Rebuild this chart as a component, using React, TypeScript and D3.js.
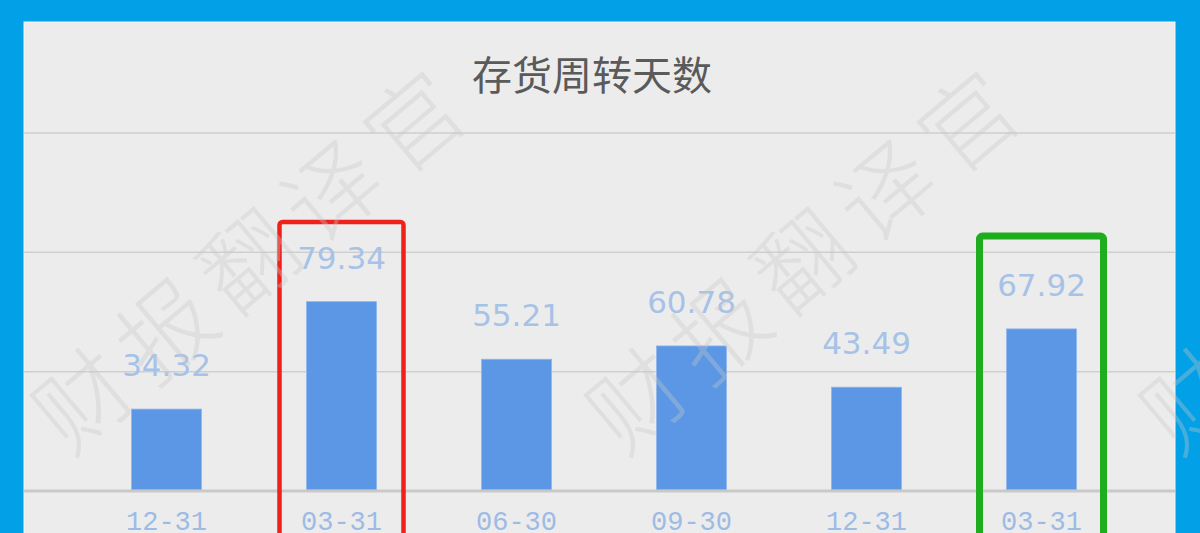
import React from "react";
import * as d3 from "d3";

const TITLE = "存货周转天数";
const WATERMARK = "财报翻译官";
const categories = ["12-31", "03-31", "06-30", "09-30", "12-31 ", "03-31 "];
const values = [34.32, 79.34, 55.21, 60.78, 43.49, 67.92];
const gridTicks = [0, 50, 100, 150];
// highlighted bars: index of the bar and box colour
const highlights = [
  { index: 1, color: "#F0211B", width: 4.5, top: 222 },
  { index: 5, color: "#1FAC1F", width: 7, top: 236 },
];

const W = 1200;
const H = 533;
const INNER = { left: 24, top: 22, right: 1175, bottom: 560 };

export default function App() {
  const x = d3
    .scaleBand<string>()
    .domain(categories)
    .range([79, 1129])
    .paddingInner(0.6)
    .paddingOuter(0.3);
  const y = d3.scaleLinear().domain([0, 150]).range([491, 133]);
  const bw = x.bandwidth();

  const watermarkCenters = [250, 804, 1358];

  return (
    <svg
      width={W}
      height={H}
      style={{ position: "absolute", left: 0, top: 0, display: "block" }}
    >
      <rect x={0} y={0} width={W} height={H} fill="#02A0E7" />
      <rect
        x={INNER.left}
        y={INNER.top}
        width={INNER.right - INNER.left}
        height={INNER.bottom - INNER.top}
        fill="#ECECEC"
        stroke="#F6F6F6"
        strokeWidth={1}
      />

      {/* grid */}
      {gridTicks.map((t) => (
        <line
          key={t}
          x1={INNER.left}
          x2={INNER.right}
          y1={y(t)}
          y2={y(t)}
          stroke={t === 0 ? "#C9C9C9" : "#CFCFCF"}
          strokeWidth={t === 0 ? 3 : 1.5}
        />
      ))}

      <text
        x={592}
        y={90}
        textAnchor="middle"
        fontFamily="'Noto Sans CJK SC', sans-serif"
        fontSize={40}
        fill="#5A5A5A"
      >
        {TITLE}
      </text>

      {/* bars */}
      {values.map((v, i) => (
        <rect
          key={i}
          x={x(categories[i])}
          y={y(v)}
          width={bw}
          height={y(0) - 1.5 - y(v)}
          fill="#5B97E5"
          stroke="#8FB6EC"
          strokeWidth={0.8}
        />
      ))}

      {/* value labels */}
      {values.map((v, i) => (
        <text
          key={i}
          x={(x(categories[i]) as number) + bw / 2}
          y={y(v) - 33}
          textAnchor="middle"
          fontFamily="'DejaVu Sans', Verdana, sans-serif"
          fontSize={31}
          fill="#A7C2E7"
        >
          {v.toFixed(2)}
        </text>
      ))}

      {/* category labels */}
      {categories.map((c) => (
        <text
          key={c}
          x={(x(c) as number) + bw / 2}
          y={530}
          textAnchor="middle"
          fontFamily="'Liberation Mono', monospace"
          fontSize={27}
          fill="#9CBBE5"
        >
          {c.trim()}
        </text>
      ))}

      {/* highlight boxes */}
      {highlights.map((h) => {
        const cx = (x(categories[h.index]) as number) + bw / 2;
        return (
          <rect
            key={h.index}
            x={cx - 62}
            y={h.top}
            width={124}
            height={H}
            rx={3}
            fill="none"
            stroke={h.color}
            strokeWidth={h.width}
          />
        );
      })}

      {/* watermark */}
      {watermarkCenters.map((cx) => (
        <text
          key={cx}
          transform={`translate(${cx},${252}) rotate(-40)`}
          textAnchor="middle"
          dominantBaseline="central"
          fontFamily="'Noto Sans CJK SC', sans-serif"
          fontWeight={300}
          fontSize={94}
          letterSpacing={14}
          fill="#C8C8C8"
          opacity={0.35}
        >
          {WATERMARK}
        </text>
      ))}
    </svg>
  );
}
